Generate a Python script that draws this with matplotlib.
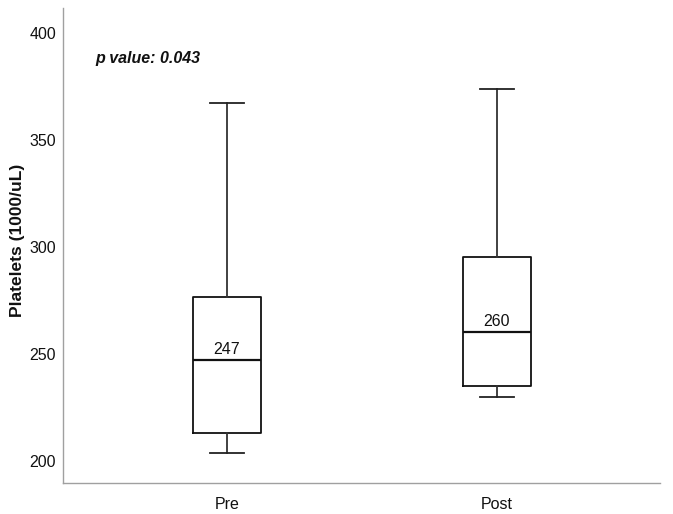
import matplotlib
matplotlib.use("Agg")
import matplotlib.pyplot as plt
from matplotlib import font_manager

groups = ["Pre", "Post"]
whislo = [203.7, 229.6]
q1 = [212.8, 234.9]
med = [247, 260]
q3 = [276.4, 295.4]
whishi = [367.4, 373.7]
median_labels = ["247", "260"]
yticks = [200, 250, 300, 350, 400]
p_text = "p value: 0.043"
ylabel = "Platelets (1000/uL)"

names = {f.name for f in font_manager.fontManager.ttflist}
fam = ["Liberation Sans Narrow", "Liberation Sans", "DejaVu Sans"]
fam = [f for f in fam if f in names] or ["DejaVu Sans"]
plt.rcParams["font.family"] = fam

fig = plt.figure(figsize=(6.73, 5.14), dpi=100)
ax = fig.add_axes([0.0936, 0.0603, 0.9807 - 0.0936, 0.9844 - 0.0603])

stats = []
for i, g in enumerate(groups):
    stats.append(dict(label=g, whislo=whislo[i], q1=q1[i], med=med[i], q3=q3[i], whishi=whishi[i], fliers=[]))

ax.bxp(stats, positions=[0, 1], widths=0.252, showfliers=False,
       boxprops=dict(color="#111111", linewidth=1.3),
       medianprops=dict(color="#111111", linewidth=1.6),
       whiskerprops=dict(color="#333333", linewidth=1.3),
       capprops=dict(color="#222222", linewidth=1.3),
       capwidths=0.125)

for i in range(len(groups)):
    ax.text(i, med[i] + 1.5, median_labels[i], ha="center", va="bottom", fontsize=11.5, color="#111111")

ax.set_xlim(-0.607, 1.604)
ax.set_ylim(189.6, 411.7)
ax.set_yticks(yticks)
ax.set_xticks([0, 1])
ax.set_xticklabels(groups)
ax.tick_params(axis="both", length=0, labelsize=11.5, colors="#111111")
ax.tick_params(axis="y", pad=5)
ax.tick_params(axis="x", pad=10)

for s in ["top", "right"]:
    ax.spines[s].set_visible(False)
for s in ["left", "bottom"]:
    ax.spines[s].set_color("#a0a0a0")
    ax.spines[s].set_linewidth(1.0)

ax.set_ylabel(ylabel, fontsize=12.5, fontweight="bold", color="#111111")
ax.yaxis.set_label_coords(-0.063, 0.51)

ax.text(-0.488, 388.3, p_text, fontsize=11.5, fontweight="bold", fontstyle="italic",
        ha="left", va="center", color="#111111")

fig.savefig("out.png", dpi=100)
